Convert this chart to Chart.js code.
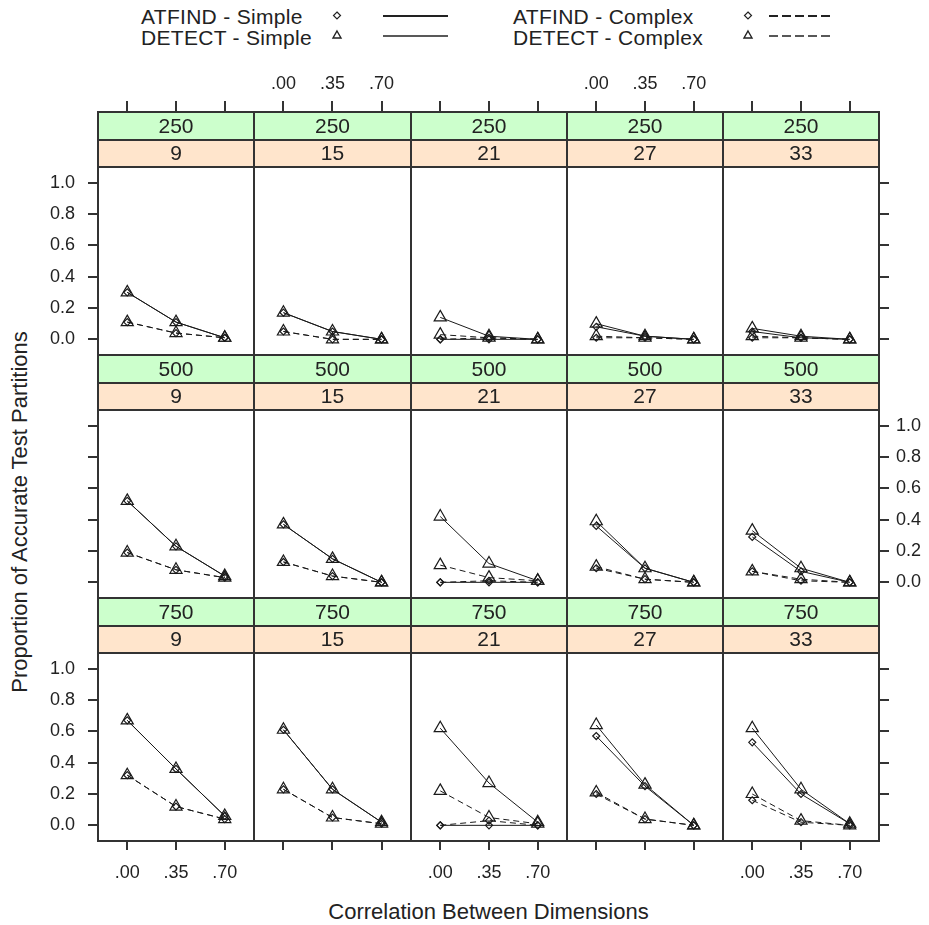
<!DOCTYPE html>
<html>
<head>
<meta charset="utf-8">
<title>Proportion of Accurate Test Partitions</title>
<script src="https://cdn.jsdelivr.net/npm/chart.js@4.4.1/dist/chart.umd.min.js"></script>
<style>
  body { margin: 0; background: #fff; }
  #wrap { position: relative; width: 929px; height: 925px; overflow: hidden; background: #fff;
          font-family: 'Liberation Sans', Arial, sans-serif; color: #222; }
  #wrap canvas { position: absolute; }
  .lg { position: absolute; font-size: 21px; line-height: 22px; white-space: nowrap; letter-spacing: 0.3px; }
  .title { position: absolute; font-size: 22px; line-height: 26px; white-space: nowrap; text-align: center; }
  #legendMarks { position: absolute; left: 0; top: 0; }
</style>
</head>
<body>
<div id="wrap">
  <div class="lg" style="left:141px; top:6px">ATFIND - Simple</div>
  <div class="lg" style="left:141px; top:27px">DETECT - Simple</div>
  <div class="lg" style="left:513px; top:6px">ATFIND - Complex</div>
  <div class="lg" style="left:513px; top:27px">DETECT - Complex</div>
  <svg id="legendMarks" width="929" height="55">
    <polygon points="337,12 340.5,15.5 337,19 333.5,15.5" fill="none" stroke="#222" stroke-width="1.2"/>
    <polygon points="337,31 341,38 333,38" fill="none" stroke="#222" stroke-width="1.4"/>
    <line x1="383" y1="16" x2="448" y2="16" stroke="#222" stroke-width="2"/>
    <line x1="383" y1="36" x2="448" y2="36" stroke="#222" stroke-width="1.4"/>
    <polygon points="748,12 751.5,15.5 748,19 744.5,15.5" fill="none" stroke="#222" stroke-width="1.2"/>
    <polygon points="748,31 752,38 744,38" fill="none" stroke="#222" stroke-width="1.4"/>
    <line x1="769" y1="16" x2="833" y2="16" stroke="#222" stroke-width="2" stroke-dasharray="9 4"/>
    <line x1="769" y1="36" x2="833" y2="36" stroke="#222" stroke-width="1.4" stroke-dasharray="9 4"/>
  </svg>
  <div class="title" style="left:98px; width:781px; top:899px">Correlation Between Dimensions</div>
  <div class="title" style="left:-230px; width:500px; top:499px; transform:rotate(-90deg)">Proportion of Accurate Test Partitions</div>
</div>
<script>
// x values and labels
const correlations = [0, 0.35, 0.7];
const xTickLabels = ['.00', '.35', '.70'];
const yTickValues = [0, 0.2, 0.4, 0.6, 0.8, 1.0];
const yTickLabels = ['0.0', '0.2', '0.4', '0.6', '0.8', '1.0'];
const sampleSizes = ['250', '500', '750'];
const testLengths = ['9', '15', '21', '27', '33'];

// one triplet per test length (9, 15, 21, 27, 33), values at .00 / .35 / .70
const atfindSimple250 = [[0.30, 0.11, 0.01], [0.17, 0.05, 0.00], [0.00, 0.00, 0.00], [0.08, 0.02, 0.00], [0.05, 0.01, 0.00]];
const detectSimple250 = [[0.30, 0.11, 0.01], [0.17, 0.05, 0.00], [0.14, 0.02, 0.00], [0.10, 0.02, 0.00], [0.07, 0.02, 0.00]];
const atfindComplex250 = [[0.11, 0.04, 0.01], [0.05, 0.00, 0.00], [0.00, 0.01, 0.00], [0.01, 0.01, 0.00], [0.01, 0.01, 0.00]];
const detectComplex250 = [[0.11, 0.04, 0.01], [0.05, 0.00, 0.00], [0.03, 0.01, 0.00], [0.02, 0.01, 0.00], [0.02, 0.01, 0.00]];

const atfindSimple500 = [[0.52, 0.23, 0.04], [0.37, 0.15, 0.00], [0.00, 0.00, 0.00], [0.36, 0.09, 0.00], [0.29, 0.07, 0.00]];
const detectSimple500 = [[0.52, 0.23, 0.04], [0.37, 0.15, 0.00], [0.42, 0.12, 0.01], [0.39, 0.09, 0.00], [0.33, 0.09, 0.00]];
const atfindComplex500 = [[0.19, 0.08, 0.03], [0.13, 0.04, 0.00], [0.00, 0.01, 0.00], [0.09, 0.02, 0.00], [0.07, 0.01, 0.00]];
const detectComplex500 = [[0.19, 0.08, 0.03], [0.13, 0.04, 0.00], [0.11, 0.03, 0.01], [0.10, 0.02, 0.00], [0.07, 0.02, 0.00]];

const atfindSimple750 = [[0.67, 0.36, 0.06], [0.61, 0.23, 0.02], [0.00, 0.00, 0.00], [0.57, 0.25, 0.00], [0.53, 0.20, 0.01]];
const detectSimple750 = [[0.67, 0.36, 0.06], [0.61, 0.23, 0.02], [0.62, 0.27, 0.02], [0.64, 0.26, 0.00], [0.62, 0.23, 0.01]];
const atfindComplex750 = [[0.32, 0.12, 0.04], [0.23, 0.05, 0.01], [0.00, 0.03, 0.00], [0.20, 0.04, 0.00], [0.16, 0.02, 0.00]];
const detectComplex750 = [[0.32, 0.12, 0.04], [0.23, 0.05, 0.01], [0.22, 0.05, 0.01], [0.21, 0.04, 0.00], [0.20, 0.03, 0.00]];

const seriesBySize = [
  [atfindSimple250, detectSimple250, atfindComplex250, detectComplex250],
  [atfindSimple500, detectSimple500, atfindComplex500, detectComplex500],
  [atfindSimple750, detectSimple750, atfindComplex750, detectComplex750]
];

const seriesStyles = [
  { label: 'ATFIND - Simple', pointStyle: 'rectRot', radius: 3.5, dash: [] },
  { label: 'DETECT - Simple', pointStyle: 'triangle', radius: 7, dash: [] },
  { label: 'ATFIND - Complex', pointStyle: 'rectRot', radius: 3.5, dash: [6, 4] },
  { label: 'DETECT - Complex', pointStyle: 'triangle', radius: 7, dash: [6, 4] }
];

const FONT = "'Liberation Sans', Arial, sans-serif";
Chart.defaults.font.family = FONT;
Chart.defaults.color = '#222';

const colLefts = [98, 254, 411, 567, 723];
const colWidths = [156, 157, 156, 156, 156];
const rowTops = [167, 410, 653];
const PLOT_H = 188;
const STRIP_H = 55;
const INK = '#1a1a1a';

// draws the two strips above each panel and the panel box
const panelFrame = {
  id: 'panelFrame',
  afterDraw(chart, args, opts) {
    const { ctx, chartArea: a } = chart;
    const w = a.right - a.left;
    ctx.save();
    ctx.lineWidth = 2;
    ctx.strokeStyle = '#333';
    const strips = [[opts.outer, '#ccffcc', a.top - STRIP_H, 28], [opts.inner, '#ffe5cc', a.top - 27, 27]];
    strips.forEach(([label, fill, y, h]) => {
      ctx.fillStyle = fill;
      ctx.fillRect(a.left, y, w, h);
      ctx.strokeRect(a.left, y, w, h);
      ctx.fillStyle = '#222';
      ctx.font = '21px ' + FONT;
      ctx.textAlign = 'center';
      ctx.textBaseline = 'middle';
      ctx.fillText(label, a.left + w / 2, y + h / 2 + 1);
    });
    ctx.strokeRect(a.left, a.top, w, a.bottom - a.top);
    ctx.restore();
  }
};

const wrap = document.getElementById('wrap');

sampleSizes.forEach((size, r) => {
  testLengths.forEach((len, c) => {
    const extL = c === 0 ? 60 : 0;
    const extR = c === 4 ? 50 : 0;
    const extT = STRIP_H + (r === 0 ? 45 : 0);
    const extB = r === 2 ? 45 : 0;

    const canvas = document.createElement('canvas');
    canvas.width = colWidths[c] + extL + extR;
    canvas.height = PLOT_H + extT + extB;
    canvas.style.left = (colLefts[c] - extL) + 'px';
    canvas.style.top = (rowTops[r] - extT) + 'px';
    canvas.style.width = canvas.width + 'px';
    canvas.style.height = canvas.height + 'px';
    wrap.appendChild(canvas);

    const showX = r === 0 ? c % 2 === 1 : c % 2 === 0;
    const showY = c === 0 ? r !== 1 : r === 1;

    // DETECT drawn after ATFIND so triangles sit on top
    const order = [1, 3, 0, 2];
    const datasets = order.map(k => {
      const st = seriesStyles[k];
      const vals = seriesBySize[r][k][c];
      return {
        label: st.label,
        data: correlations.map((x, i) => ({ x: x, y: vals[i] })),
        showLine: true,
        borderColor: INK,
        borderWidth: 1,
        borderDash: st.dash,
        pointStyle: st.pointStyle,
        pointRadius: st.radius,
        pointBackgroundColor: 'rgba(255,255,255,0)',
        pointBorderColor: INK,
        pointBorderWidth: 1.2
      };
    });

    new Chart(canvas, {
      type: 'scatter',
      data: { datasets },
      plugins: [panelFrame],
      options: {
        responsive: false,
        animation: false,
        devicePixelRatio: 1,
        events: [],
        layout: { autoPadding: false, padding: { top: r === 0 ? 0 : STRIP_H, left: 0, right: 0, bottom: 0 } },
        plugins: {
          legend: { display: false },
          tooltip: { enabled: false },
          panelFrame: { outer: size, inner: len }
        },
        scales: {
          x: {
            type: 'linear',
            min: -0.21,
            max: 0.91,
            display: r !== 1,
            position: r === 0 ? 'top' : 'bottom',
            afterBuildTicks: s => { s.ticks = correlations.map(v => ({ value: v })); },
            afterFit: s => { s.height = r === 0 ? extT : extB; s.paddingLeft = 0; s.paddingRight = 0; },
            grid: { drawOnChartArea: false, drawTicks: true, tickLength: r === 0 ? STRIP_H + 11 : 9, color: '#333', lineWidth: 2 },
            border: { display: false },
            ticks: {
              autoSkip: false, maxRotation: 0, padding: r === 0 ? 6 : 12,
              font: { size: 18 }, color: '#222',
              callback: (v, i) => showX ? xTickLabels[i] : ''
            }
          },
          y: {
            type: 'linear',
            min: -0.1,
            max: 1.1,
            display: c === 0 || c === 4,
            position: c === 4 ? 'right' : 'left',
            afterBuildTicks: s => { s.ticks = yTickValues.map(v => ({ value: v })); },
            afterFit: s => { s.width = c === 0 ? extL : extR; s.paddingTop = 0; s.paddingBottom = 0; },
            grid: { drawOnChartArea: false, drawTicks: true, tickLength: 10, color: '#333', lineWidth: 2 },
            border: { display: false },
            ticks: {
              autoSkip: false, padding: c === 0 ? 13 : 7,
              font: { size: 18 }, color: '#222',
              callback: (v, i) => showY ? yTickLabels[i] : ''
            }
          }
        }
      }
    });
  });
});
</script>
</body>
</html>
